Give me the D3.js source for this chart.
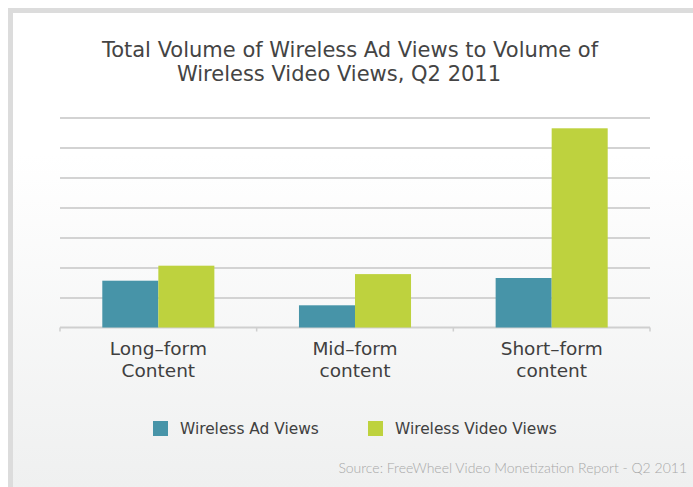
<!DOCTYPE html>
<html>
<head>
<meta charset="utf-8">
<script src="https://cdn.jsdelivr.net/npm/d3@7"></script>
<style>
  html, body { margin: 0; padding: 0; background: #ffffff; }
  svg { display: block; }
</style>
</head>
<body>
<svg id="chart" width="693" height="487"></svg>
<script>
// Content categories (two-line labels) and series values, in gridline units
const categories = ["Long-form", "Mid-form", "Short-form"];
const categoryLines = [["Long–form", "Content"], ["Mid–form", "content"], ["Short–form", "content"]];
const seriesNames = ["Wireless Ad Views", "Wireless Video Views"];
const adViews = [1.56, 0.74, 1.65];
const videoViews = [2.06, 1.78, 6.64];
const gridTicks = [0, 1, 2, 3, 4, 5, 6, 7];
const titleLines = ["Total Volume of Wireless Ad Views to Volume of", "Wireless Video Views, Q2 2011"];
const sourceText = "Source: FreeWheel Video Monetization Report - Q2 2011";

const colors = ["#4794a8", "#bed23e"];
const W = 693, H = 487;
const svg = d3.select("#chart");

// panel background with soft vertical gradient and grey frame on top/left
const defs = svg.append("defs");
const grad = defs.append("linearGradient").attr("id", "bg").attr("x1", 0).attr("y1", 0).attr("x2", 0).attr("y2", 1);
grad.append("stop").attr("offset", "0%").attr("stop-color", "#ffffff");
grad.append("stop").attr("offset", "30%").attr("stop-color", "#ffffff");
grad.append("stop").attr("offset", "100%").attr("stop-color", "#eff0f0");

svg.append("rect").attr("x", 0).attr("y", 0).attr("width", W).attr("height", H).attr("fill", "#ffffff");
svg.append("rect").attr("x", 8).attr("y", 8).attr("width", W - 8).attr("height", H - 8).attr("fill", "#dcdcdc");
svg.append("rect").attr("x", 13).attr("y", 13).attr("width", W - 13).attr("height", H - 13).attr("fill", "url(#bg)");

// title (second line sits slightly left of the first)
const titleX = [350, 339];
svg.append("text")
  .attr("x", 350).attr("y", 57)
  .attr("text-anchor", "middle")
  .attr("font-family", "DejaVu Sans, sans-serif")
  .attr("font-size", 21)
  .attr("fill", "#444444")
  .selectAll("tspan").data(titleLines).join("tspan")
  .attr("x", (d, i) => titleX[i]).attr("dy", (d, i) => i === 0 ? 0 : 24)
  .text(d => d);

// scales
const plotLeft = 60, plotRight = 650, plotBottom = 327.5, plotTop = 117.5;
const x0 = d3.scaleBand().domain(categories).range([plotLeft, plotRight]).padding(0);
const x1 = d3.scaleBand().domain(seriesNames).range([0, x0.bandwidth()]).paddingOuter(0.755).paddingInner(0);
const y = d3.scaleLinear().domain([0, 7]).range([plotBottom, plotTop]);

// horizontal gridlines
svg.append("g")
  .attr("transform", `translate(${plotLeft},0)`)
  .call(d3.axisLeft(y).tickValues(gridTicks.slice(1)).tickSize(-(plotRight - plotLeft)).tickFormat(""))
  .call(g => g.select(".domain").remove())
  .call(g => g.selectAll(".tick line").attr("stroke", "#d3d3d3").attr("stroke-width", 2));

// baseline with boundary tick marks
const boundaries = categories.map(c => x0(c)).concat([plotRight]);
const xAxis = svg.append("g").attr("transform", `translate(0,${plotBottom})`);
xAxis.append("line")
  .attr("x1", plotLeft).attr("x2", plotRight)
  .attr("stroke", "#cfcfcf").attr("stroke-width", 2);
xAxis.selectAll("line.tick").data(boundaries).join("line")
  .attr("class", "tick")
  .attr("x1", d => d).attr("x2", d => d)
  .attr("y1", 0).attr("y2", 4)
  .attr("stroke", "#cfcfcf").attr("stroke-width", 1.5);

// bars
const rows = categories.map((c, i) => ({ cat: c, vals: [adViews[i], videoViews[i]] }));
svg.append("g").selectAll("g").data(rows).join("g")
  .attr("transform", d => `translate(${x0(d.cat)},0)`)
  .selectAll("rect").data(d => d.vals.map((v, j) => ({ name: seriesNames[j], v, j })))
  .join("rect")
  .attr("x", d => x1(d.name))
  .attr("y", d => y(d.v))
  .attr("width", x1.bandwidth())
  .attr("height", d => y(0) - y(d.v))
  .attr("fill", d => colors[d.j]);

// category labels
svg.append("g").selectAll("text").data(categories).join("text")
  .attr("x", c => x0(c) + x0.bandwidth() / 2)
  .attr("y", 355)
  .attr("text-anchor", "middle")
  .attr("font-family", "DejaVu Sans, sans-serif")
  .attr("font-size", 18.5)
  .attr("fill", "#404040")
  .selectAll("tspan").data((c, i) => categoryLines[i]).join("tspan")
  .attr("x", function () { return d3.select(this.parentNode).attr("x"); })
  .attr("dy", (d, i) => i === 0 ? 0 : 22)
  .text(d => d);

// legend
const legendX = [153, 368];
const legend = svg.append("g").selectAll("g").data(seriesNames).join("g")
  .attr("transform", (d, i) => `translate(${legendX[i]},421)`);
legend.append("rect").attr("width", 15).attr("height", 15).attr("fill", (d, i) => colors[i]);
legend.append("text")
  .attr("x", 27).attr("y", 12.5)
  .attr("font-family", "DejaVu Sans, sans-serif")
  .attr("font-size", 15.4)
  .attr("fill", "#404040")
  .text(d => d);

// source note
svg.append("text")
  .attr("x", 687).attr("y", 473)
  .attr("text-anchor", "end")
  .attr("font-family", "Lato, sans-serif")
  .attr("font-weight", 300)
  .attr("font-size", 14)
  .attr("fill", "#a8a8a8")
  .text(sourceText);
</script>
</body>
</html>
